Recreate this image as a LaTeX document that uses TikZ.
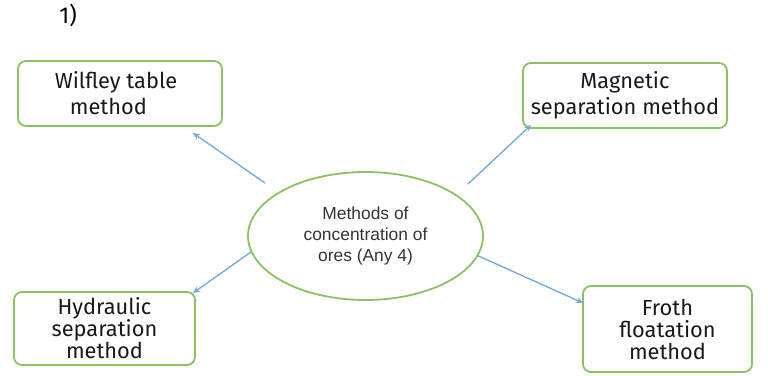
\documentclass[tikz,border=0pt]{standalone}
\usepackage{fontspec}
\setmainfont{Fira Sans}
\newfontfamily\arialfont{Liberation Sans}
\usetikzlibrary{arrows.meta,shapes.geometric}
\definecolor{boxgreen}{RGB}{137,193,99}
\definecolor{arrowblue}{RGB}{111,168,220}
\definecolor{textgray}{RGB}{51,51,51}
\begin{document}
\begin{tikzpicture}[x=1pt, y=-1pt, line join=round, line cap=round,
    method/.style={draw=boxgreen, line width=1.8pt, rounded corners=8pt, align=center,
      inner sep=0pt, text=black!90},
    arr/.style={draw=arrowblue, line width=1.3pt, -{Stealth[length=7pt,width=6pt]}}]
      \useasboundingbox (0,0) rectangle (768,375);

      \node[font=\fontsize{23}{26}\selectfont] (num) at (68,15) {1)};

      \node[ellipse, draw=boxgreen, line width=1.8pt, minimum width=235pt, minimum height=128pt,
        inner sep=0pt, align=center, text=textgray, font=\arialfont\fontsize{17.4}{21}\selectfont]
        (ell) at (365.5,236) {Methods of\\concentration of\\ores (Any 4)};

      \node[method, align=left, minimum width=204pt, minimum height=65pt, font=\fontsize{21.8}{26}\selectfont]
        (wil) at (120,93.5) {Wilfley table\hspace*{8pt}\\\hspace*{15pt}method};
      \node[method, minimum width=204pt, minimum height=65pt, font=\fontsize{21.8}{26}\selectfont]
        (mag) at (625,95.5) {Magnetic\\separation method};
      \node[method, minimum width=181pt, minimum height=73pt, font=\fontsize{21.8}{22}\selectfont]
        (hyd) at (104.5,328.5) {Hydraulic\\separation\\method};
      \node[method, minimum width=169pt, minimum height=86pt, font=\fontsize{21.8}{22}\selectfont]
        (fro) at (667.5,329) {Froth\\floatation\\method};

      \coordinate (t1) at (265,183);
      \coordinate (t2) at (468,184);

      \draw[arr] (t1) -- ([shift={(-30,6)}]wil.south east);
      \draw[arr] (t2) -- ([shift={(9,-4)}]mag.south west);
      \draw[arr] (ell.188) -- ([shift={(-3,2)}]hyd.north east);
      \draw[arr] (ell.350.5) -- ([shift={(1,-26)}]fro.west);
    \end{tikzpicture}
\end{document}
